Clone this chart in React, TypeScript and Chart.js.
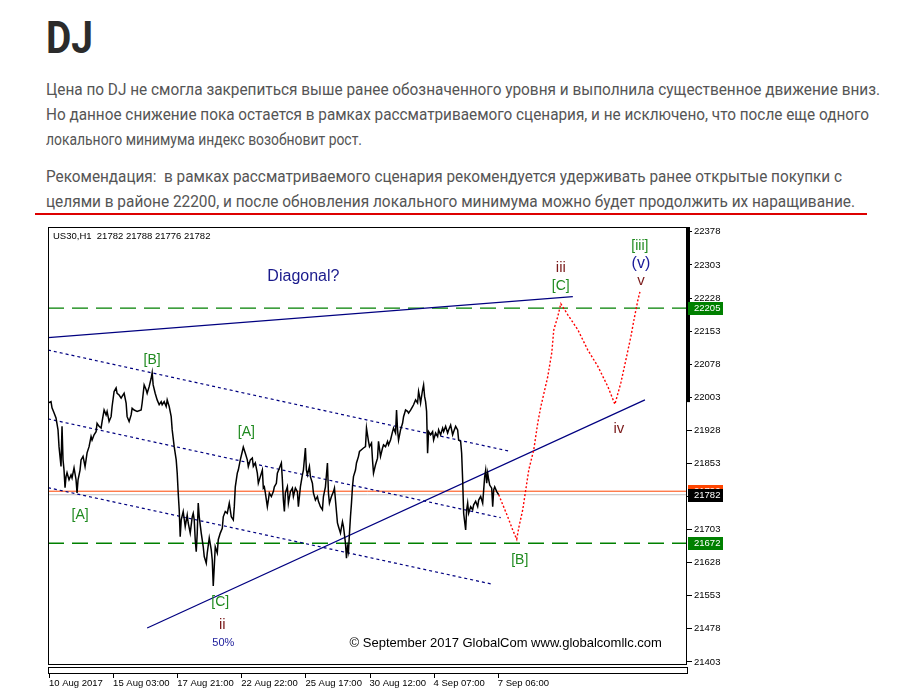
import React, { useEffect, useLayoutEffect, useRef } from "react";
import { Chart, registerables } from "chart.js";

Chart.register(...registerables);

// ---------------- data ----------------
const titleText = "DJ";
const paragraph1 = [
  "Цена по DJ не смогла закрепиться выше ранее обозначенного уровня и выполнила существенное движение вниз.",
  "Но данное снижение пока остается в рамках рассматриваемого сценария, и не исключено, что после еще одного",
  "локального минимума индекс возобновит рост.",
];
const paragraph2 = [
  "Рекомендация:  в рамках рассматриваемого сценария рекомендуется удерживать ранее открытые покупки с",
  "целями в районе 22200, и после обновления локального минимума можно будет продолжить их наращивание.",
];

const symbol = "US30,H1";
const ohlc = [21782, 21788, 21776, 21782];

const xTickValues = [0, 64, 128, 192, 256, 320, 384, 448];
const xTickLabels = [
  "10 Aug 2017",
  "15 Aug 03:00",
  "17 Aug 21:00",
  "22 Aug 22:00",
  "25 Aug 17:00",
  "30 Aug 12:00",
  "4 Sep 07:00",
  "7 Sep 06:00",
];
const yTickValues = [
  21403, 21478, 21553, 21628, 21703, 21778, 21853, 21928, 22003, 22078, 22153, 22228, 22303, 22378,
];
const X_MIN = -1;
const X_MAX = 637;
const Y_MIN = 21396;
const Y_MAX = 22389;

// hourly bar index, price
const price: [number, number][] = [
  [-1,21990],[2,21993],[3,21979],[5,21968],[7,21956],[9,21929],[10,21891],[12,21846],[13,21937],[14,21861],
  [15,21838],[16,21798],[17,21823],[18,21832],[20,21816],[22,21827],[23,21820],[25,21843],[27,21816],[28,21786],
  [29,21816],[31,21838],[32,21861],[34,21869],[36,21846],[37,21861],[38,21877],[40,21891],[42,21914],[43,21906],
  [45,21918],[47,21925],[48,21944],[50,21937],[52,21933],[53,21948],[55,21974],[57,21963],[58,21971],[60,21948],
  [62,21959],[63,21982],[65,22016],[67,22024],[68,22012],[70,22008],[72,22001],[73,22005],[75,22012],[77,21990],
  [78,21959],[80,21948],[82,21963],[83,21978],[85,21974],[88,21971],[92,21974],[93,21990],[95,22031],[97,22020],
  [98,22012],[100,22027],[102,22046],[103,22059],[104,22031],[106,22012],[108,21997],[110,21986],[112,21993],[113,21986],
  [115,21993],[117,21982],[118,21997],[120,21982],[122,21959],[123,21929],[125,21891],[127,21861],[128,21831],[129,21786],
  [130,21748],[131,21687],[132,21725],[134,21744],[136,21710],[138,21736],[139,21718],[141,21695],[143,21732],[144,21740],
  [145,21725],[146,21680],[147,21653],[148,21695],[149,21763],[150,21732],[152,21695],[154,21664],[155,21642],[157,21627],
  [158,21650],[160,21684],[162,21657],[163,21634],[164,21575],[165,21619],[166,21664],[168,21650],[169,21680],[171,21695],
  [173,21706],[174,21732],[176,21744],[178,21740],[180,21763],[182,21732],[184,21725],[185,21755],[186,21800],[188,21831],
  [189,21838],[191,21861],[193,21880],[194,21890],[196,21876],[198,21861],[199,21846],[201,21861],[203,21865],[204,21846],
  [206,21854],[208,21831],[209,21808],[211,21823],[213,21838],[214,21797],[215,21800],[216,21786],[218,21755],[219,21770],
  [220,21786],[222,21778],[224,21789],[225,21800],[227,21808],[228,21831],[230,21842],[232,21854],[233,21816],[234,21770],
  [235,21744],[236,21786],[238,21800],[239,21763],[241,21789],[243,21797],[244,21778],[246,21797],[248,21789],[249,21755],
  [251,21800],[253,21827],[254,21838],[256,21888],[257,21838],[258,21827],[260,21846],[261,21823],[263,21808],[264,21786],
  [266,21770],[268,21778],[269,21767],[271,21755],[273,21748],[274,21778],[276,21800],[278,21854],[279,21786],[280,21763],
  [282,21778],[284,21789],[285,21797],[286,21770],[288,21718],[289,21710],[291,21695],[293,21721],[294,21710],[296,21672],
  [297,21638],[298,21664],[299,21653],[300,21695],[301,21732],[302,21763],[303,21800],[304,21823],[306,21838],[307,21854],
  [309,21869],[310,21880],[312,21884],[314,21888],[316,21891],[317,21933],[319,21903],[320,21891],[322,21899],[323,21861],
  [324,21831],[326,21850],[328,21865],[329,21903],[331,21869],[333,21888],[334,21895],[336,21891],[338,21903],[339,21895],
  [341,21906],[343,21925],[344,21933],[346,21922],[347,21974],[348,21929],[349,21906],[351,21929],[353,21944],[354,21959],
  [356,21974],[358,21971],[359,21967],[361,21974],[363,21982],[364,21986],[366,21997],[368,21990],[369,22016],[370,22005],
  [371,21990],[373,22020],[374,22031],[375,22005],[376,21993],[377,21971],[378,21876],[379,21925],[381,21918],[383,21925],
  [384,21906],[386,21922],[388,21914],[389,21929],[391,21918],[393,21933],[394,21925],[396,21937],[398,21922],[399,21929],
  [401,21940],[403,21918],[404,21925],[406,21937],[408,21929],[409,21906],[411,21903],[412,21876],[413,21816],[414,21740],
  [416,21702],[417,21748],[418,21763],[419,21740],[421,21755],[423,21748],[424,21759],[426,21767],[428,21755],[429,21770],
  [431,21778],[433,21763],[434,21793],[435,21823],[436,21838],[437,21808],[438,21831],[439,21816],[440,21804],[442,21797],
  [443,21755],[444,21793],[445,21800],[447,21789],[449,21782],
];

const forecast: [number, number][] = [
  [449,21782],[458,21732],[463,21702],[467,21681],[469,21707],[473,21748],[476,21793],[479,21838],[484,21884],[488,21945],
  [491,21981],[498,22050],[502,22104],[504,22156],[508,22186],[511,22215],[518,22190],[528,22156],[538,22110],[548,22073],
  [558,22027],[565,21987],[571,22036],[576,22088],[581,22141],[584,22178],[588,22224],[590,22242],
];

const diagUpper: [number, number][] = [[-1, 22138], [523, 22231]];
const diagLower: [number, number][] = [[98, 21480], [595, 21997]];
const channelTop: [number, number][] = [[-1, 22110], [459, 21881]];
const channelMid: [number, number][] = [[-1, 21954], [451, 21730]];
const channelLow: [number, number][] = [[-1, 21798], [441, 21580]];

const resistanceLevel = 22205;
const supportLevel = 21672;
const askLevel = 21790;
const bidLevel = 21782;

type Kind = "wave" | "minor" | "sub" | "pct" | "note" | "copy";
const annotations: { text: string; x: number; y: number; kind: Kind }[] = [
  { text: "[B]", x: 103, y: 22088, kind: "wave" },
  { text: "[A]", x: 197, y: 21923, kind: "wave" },
  { text: "[A]", x: 31, y: 21736, kind: "wave" },
  { text: "[C]", x: 171, y: 21538, kind: "wave" },
  { text: "[B]", x: 470, y: 21634, kind: "wave" },
  { text: "[C]", x: 511, y: 22254, kind: "wave" },
  { text: "[iii]", x: 590, y: 22345, kind: "wave" },
  { text: "ii", x: 173, y: 21487, kind: "minor" },
  { text: "iii", x: 511, y: 22297, kind: "minor" },
  { text: "v", x: 591, y: 22267, kind: "minor" },
  { text: "iv", x: 569, y: 21931, kind: "minor" },
  { text: "(v)", x: 591, y: 22305, kind: "sub" },
  { text: "50%", x: 174, y: 21445, kind: "pct" },
  { text: "Diagonal?", x: 254, y: 22277, kind: "note" },
  { text: "© September 2017 GlobalCom www.globalcomllc.com", x: 456, y: 21445, kind: "copy" },
];

// ---------------- styles ----------------
const AX_FONT = '"Liberation Sans", Arial, sans-serif';
const annStyle: Record<Kind, { font: string; color: string }> = {
  wave: { font: `14px ${AX_FONT}`, color: "#1f8a1f" },
  minor: { font: `15px ${AX_FONT}`, color: "#7a1a1a" },
  sub: { font: `16px ${AX_FONT}`, color: "#1a1a9a" },
  pct: { font: `11px ${AX_FONT}`, color: "#1a1a9a" },
  note: { font: `16px ${AX_FONT}`, color: "#1a1a8c" },
  copy: { font: `13px ${AX_FONT}`, color: "#000000" },
};

const xy = (p: [number, number][]) => p.map(([x, y]) => ({ x, y }));
const full = (v: number) => [{ x: X_MIN, y: v }, { x: X_MAX, y: v }];

const mtPlugin = {
  id: "mt4decor",
  afterDatasetsDraw(chart: any) {
    const { ctx, chartArea: a, scales } = chart;
    const xs = scales.x;
    const ys = scales.y;
    ctx.save();
    ctx.beginPath();
    ctx.rect(a.left, a.top, a.right - a.left, a.bottom - a.top);
    ctx.clip();
    ctx.textAlign = "center";
    ctx.textBaseline = "middle";
    for (const l of annotations) {
      const st = annStyle[l.kind];
      ctx.font = st.font;
      ctx.fillStyle = st.color;
      ctx.fillText(l.text, xs.getPixelForValue(l.x), ys.getPixelForValue(l.y));
    }
    ctx.textAlign = "left";
    ctx.font = `9.5px ${AX_FONT}`;
    ctx.fillStyle = "#000";
    ctx.fillText(`${symbol}  ${ohlc.join(" ")}`, a.left + 5, a.top + 9);
    ctx.restore();
  },
  afterDraw(chart: any) {
    const { ctx, chartArea: a, scales } = chart;
    const xs = scales.x;
    const ys = scales.y;
    ctx.save();
    ctx.strokeStyle = "#000";
    ctx.lineWidth = 1;
    // frame
    ctx.strokeRect(a.left + 0.5, a.top + 0.5, a.right - a.left - 1, a.bottom - a.top - 1);
    // thick bar on the price scale
    ctx.fillStyle = "#000";
    ctx.fillRect(a.right - 1, a.top, 4, ys.getPixelForValue(21992) - a.top);
    // bottom strip
    ctx.strokeRect(a.left + 0.5, a.bottom + 2.5, a.right - a.left, 6);
    // x tick marks
    ctx.beginPath();
    for (const v of xTickValues) {
      const px = Math.round(xs.getPixelForValue(v)) + 0.5;
      ctx.moveTo(px, a.bottom + 9);
      ctx.lineTo(px, a.bottom + 13);
    }
    ctx.stroke();
    // price tags
    const tags = [
      { v: askLevel, bg: "#ff4500" },
      { v: bidLevel, bg: "#000000" },
      { v: resistanceLevel, bg: "#008000" },
      { v: supportLevel, bg: "#008000" },
    ];
    ctx.font = `9.5px ${AX_FONT}`;
    ctx.textBaseline = "middle";
    ctx.textAlign = "left";
    for (const t of tags) {
      const py = Math.round(ys.getPixelForValue(t.v));
      ctx.fillStyle = t.bg;
      ctx.fillRect(a.right + 1, py - 6, 35, 13);
      ctx.fillStyle = "#fff";
      ctx.fillText(String(t.v), a.right + 7, py + 0.5);
    }
    ctx.restore();
  },
};

function MTChart() {
  const ref = useRef<HTMLCanvasElement>(null);
  useEffect(() => {
    const canvas = ref.current;
    if (!canvas) return;
    const common = { pointRadius: 0, fill: false, tension: 0 };
    const chart = new Chart(canvas, {
      type: "line",
      data: {
        datasets: [
          { ...common, label: "forecast", data: xy(forecast), borderColor: "#ff0000", borderWidth: 1.4, borderDash: [2, 2], order: 0 },
          { ...common, label: "price", data: xy(price), borderColor: "#000000", borderWidth: 1.5, order: 1 },
          { ...common, label: "diagUpper", data: xy(diagUpper), borderColor: "#000080", borderWidth: 1.2, order: 2 },
          { ...common, label: "diagLower", data: xy(diagLower), borderColor: "#000080", borderWidth: 1.2, order: 2 },
          { ...common, label: "chTop", data: xy(channelTop), borderColor: "#000080", borderWidth: 1.2, borderDash: [3, 3], order: 3 },
          { ...common, label: "chMid", data: xy(channelMid), borderColor: "#000080", borderWidth: 1.2, borderDash: [3, 3], order: 3 },
          { ...common, label: "chLow", data: xy(channelLow), borderColor: "#000080", borderWidth: 1.2, borderDash: [3, 3], order: 3 },
          { ...common, label: "res", data: full(resistanceLevel), borderColor: "#008000", borderWidth: 1.3, borderDash: [16, 8], order: 4 },
          { ...common, label: "sup", data: full(supportLevel), borderColor: "#008000", borderWidth: 1.3, borderDash: [16, 8], order: 4 },
          { ...common, label: "ask", data: full(askLevel), borderColor: "#ff4500", borderWidth: 1, order: 5 },
          { ...common, label: "bid", data: full(bidLevel), borderColor: "#c0c0c0", borderWidth: 1, order: 5 },
        ] as any,
      },
      options: {
        animation: false,
        responsive: false,
        maintainAspectRatio: false,
        devicePixelRatio: 1,
        layout: { padding: { left: 8, top: 5, right: 0, bottom: 0 } },
        plugins: { legend: { display: false }, tooltip: { enabled: false } },
        scales: {
          x: {
            type: "linear",
            position: "bottom",
            min: X_MIN,
            max: X_MAX,
            grid: { display: false, drawTicks: false },
            border: { display: false },
            afterBuildTicks: (s: any) => {
              s.ticks = xTickValues.map((v) => ({ value: v }));
            },
            afterFit: (s: any) => {
              s.height = 28;
              s.paddingLeft = 0;
              s.paddingRight = 0;
            },
            ticks: {
              autoSkip: false,
              maxRotation: 0,
              minRotation: 0,
              align: "start",
              padding: 13,
              color: "#000",
              font: { family: AX_FONT, size: 9.5 },
              callback: (v: any) => xTickLabels[xTickValues.indexOf(Number(v))] ?? "",
            },
          },
          y: {
            type: "linear",
            position: "right",
            min: Y_MIN,
            max: Y_MAX,
            grid: { drawOnChartArea: false, drawTicks: true, tickLength: 5, color: "#000", lineWidth: 1 },
            border: { display: false },
            afterBuildTicks: (s: any) => {
              s.ticks = yTickValues.map((v) => ({ value: v }));
            },
            afterFit: (s: any) => {
              s.width = 43;
              s.paddingTop = 0;
              s.paddingBottom = 0;
            },
            ticks: {
              autoSkip: false,
              padding: 2,
              color: "#000",
              font: { family: AX_FONT, size: 9.5 },
              callback: (v: any) => String(v),
            },
          },
        },
      } as any,
      plugins: [mtPlugin],
    });
    return () => chart.destroy();
  }, []);
  return (
    <canvas
      ref={ref}
      width={690}
      height={471}
      style={{ position: "absolute", left: 40, top: 222, width: 690, height: 471 }}
    />
  );
}

const TEXT_FONT = "Roboto, 'Liberation Sans', sans-serif";

function FitLine(props: {
  text: string;
  left: number;
  baseline: number;
  width: number;
  size: number;
  color: string;
  weight?: number;
}) {
  const ref = useRef<HTMLSpanElement>(null);
  const { text, left, baseline, width, size, color, weight } = props;
  useLayoutEffect(() => {
    const el = ref.current;
    if (!el) return;
    el.style.transform = "none";
    const w = el.getBoundingClientRect().width;
    if (w > 0) el.style.transform = `scaleX(${width / w})`;
  }, [text, width]);
  const lh = size * 1.25;
  return (
    <span
      ref={ref}
      style={{
        position: "absolute",
        left,
        top: baseline - 0.9668 * size,
        whiteSpace: "pre",
        fontFamily: TEXT_FONT,
        fontSize: size,
        lineHeight: `${lh}px`,
        color,
        fontWeight: weight ?? 400,
        transformOrigin: "0 0",
      }}
    >
      {text}
    </span>
  );
}

export default function App() {
  const bodyLines = [...paragraph1, ...paragraph2];
  const baselines = [95, 120, 145, 182, 207];
  const widths = [834, 823, 316, 796, 809];
  return (
    <div style={{ position: "absolute", left: 0, top: 0, width: 914, height: 693, background: "#fff", overflow: "hidden" }}>
      <FitLine text={titleText} left={46} baseline={54} width={47} size={44} color="#2b2b2b" weight={700} />
      {bodyLines.map((t, i) => (
        <FitLine key={i} text={t} left={46} baseline={baselines[i]} width={widths[i]} size={16} color="#555555" />
      ))}
      <div style={{ position: "absolute", left: 35, top: 213, width: 832, height: 2, background: "#dd0000" }} />
      <MTChart />
    </div>
  );
}
